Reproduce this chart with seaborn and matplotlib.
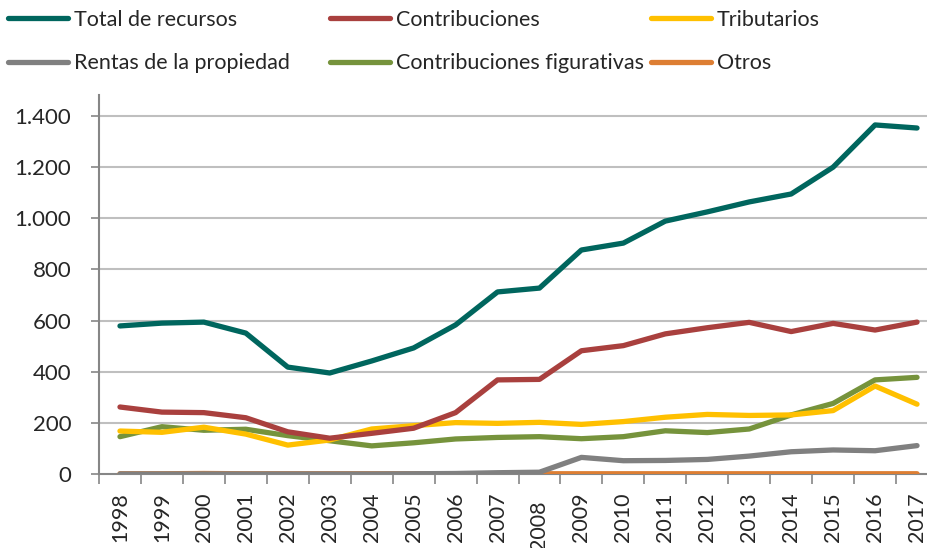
import matplotlib
matplotlib.use("Agg")
import matplotlib.pyplot as plt
import matplotlib.transforms as mtransforms
from matplotlib.lines import Line2D
from matplotlib.ticker import FuncFormatter, FixedLocator
import seaborn as sns
import pandas as pd

# --- Data
years = list(range(1998, 2018))
total_recursos = [579, 590, 594, 551, 418, 395, 442, 493, 583, 712,
                  727, 876, 903, 989, 1025, 1064, 1095, 1200, 1365, 1353]
contribuciones = [262, 242, 240, 220, 165, 140, 159, 179, 240, 368,
                  370, 482, 502, 548, 572, 593, 557, 589, 563, 594]
tributarios = [168, 163, 183, 156, 113, 133, 176, 189, 201, 198,
               202, 194, 205, 222, 233, 229, 231, 248, 344, 273]
rentas_propiedad = [0, 0, 0, 0, 0, 0, 0, 1, 2, 5,
                    7, 65, 52, 53, 57, 70, 87, 94, 91, 111]
contrib_figurativas = [146, 185, 171, 175, 150, 130, 110, 122, 137, 143,
                       146, 138, 146, 169, 162, 176, 231, 276, 368, 378]
otros = [1, 1, 2, 1, 1, 1, 1, 1, 1, 1,
         1, 1, 1, 1, 1, 1, 1, 1, 1, 1]

series_names = ["Total de recursos", "Contribuciones", "Tributarios",
                "Rentas de la propiedad", "Contribuciones figurativas", "Otros"]
series_values = [total_recursos, contribuciones, tributarios,
                 rentas_propiedad, contrib_figurativas, otros]
colors = ["#00665E", "#A9403E", "#FFC000", "#808080", "#76933C", "#DD7E33"]

# --- General Plot Settings
sns.set_style("white")
plt.rcParams['font.family'] = ['Lato', 'DejaVu Sans']

rows = []
for name, vals in zip(series_names, series_values):
    for i, v in enumerate(vals):
        rows.append({"idx": i, "Serie": name, "Valor": v})
df = pd.DataFrame(rows)

fig = plt.figure(figsize=(9.28, 5.48), dpi=100)
W, H = 928, 548
# plot area runs a little past the right edge, as in the reference
ax = fig.add_axes([99 / W, (H - 474) / H, (938 - 99) / W, (474 - 95) / H])

# gridlines first so lines draw on top
for g in range(200, 1401, 200):
    ax.axhline(g, color="#BFBFBF", lw=1.5, zorder=0)

# draw back-to-front like the reference (Total on top)
draw_order = ["Otros", "Rentas de la propiedad", "Contribuciones figurativas",
              "Tributarios", "Contribuciones", "Total de recursos"]
palette = dict(zip(series_names, colors))
for name in draw_order:
    sns.lineplot(data=df[df["Serie"] == name], x="idx", y="Valor",
                 color=palette[name], lw=3.8, ax=ax, legend=False,
                 solid_capstyle="round", solid_joinstyle="round", zorder=3)

# --- Axes
ax.set_xlim(-0.5, len(years) - 0.5)
ax.set_ylim(0, 1400 * (474 - 95) / 358)
ax.set_xlabel("")
ax.set_ylabel("")

ax.yaxis.set_major_locator(FixedLocator(range(0, 1401, 200)))
ax.yaxis.set_major_formatter(FuncFormatter(lambda v, p: f"{int(v):,}".replace(",", ".")))
ax.tick_params(axis="y", length=6, width=1.2, color="#868686", pad=14,
               labelsize=16, direction="out", left=True)

ax.set_xticks(range(len(years)))
ax.set_xticklabels([str(y) for y in years], rotation=90, va="top", ha="center")
ax.xaxis.set_minor_locator(FixedLocator([i - 0.5 for i in range(len(years) + 1)]))
ax.tick_params(axis="x", which="major", length=0, pad=13, labelsize=15.5)
ax.tick_params(axis="x", which="minor", length=7, width=1.2, color="#868686",
               direction="out", bottom=True)

for side in ["top", "right"]:
    ax.spines[side].set_visible(False)
for side in ["left", "bottom"]:
    ax.spines[side].set_color("#868686")
    ax.spines[side].set_linewidth(1.5)

# the 2008 label sits a bit lower in the reference
lbl = ax.get_xticklabels()[years.index(2008)]
lbl.set_transform(lbl.get_transform() +
                  mtransforms.ScaledTranslation(0, -8 / 100, fig.dpi_scale_trans))

# --- Legend: three columns of two entries
col_x = [8, 330, 651]
for c in range(3):
    names = [series_names[c], series_names[c + 3]]
    handles = [Line2D([], [], color=palette[n], lw=3.8, solid_capstyle="round")
               for n in names]
    fig.legend(handles, names, loc="upper left",
               bbox_to_anchor=(col_x[c] / W, 1 - 10 / H),
               frameon=False, fontsize=15.5, handlelength=2.8,
               handletextpad=0.25, labelspacing=1.08, borderaxespad=0,
               borderpad=0)

plt.savefig("out.png", dpi=100)
plt.close()
